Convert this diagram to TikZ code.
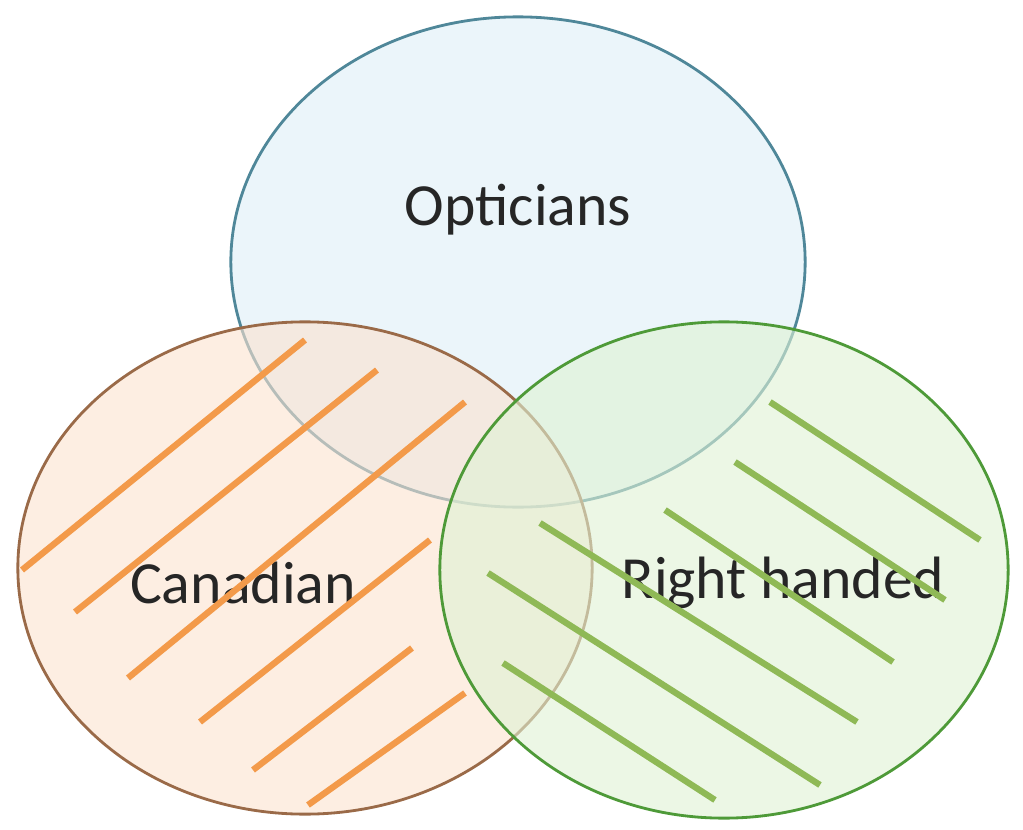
\documentclass[tikz,border=0pt]{standalone}
\usepackage{fontspec}
\setmainfont{Carlito}
\usetikzlibrary{shapes.geometric}
\definecolor{optfill}{HTML}{DDEFF6}
\definecolor{optline}{HTML}{4F8799}
\definecolor{canfill}{HTML}{FBE2CF}
\definecolor{canline}{HTML}{9A6A48}
\definecolor{rhfill}{HTML}{DFF2D4}
\definecolor{rhline}{HTML}{4E9A38}
\definecolor{hatchor}{HTML}{F39A4A}
\definecolor{hatchgr}{HTML}{8FB956}
\tikzstyle{set} = [ellipse, draw, line width=0.8pt, fill opacity=0.6, text opacity=1, inner sep=0pt]
\tikzstyle{hatch} = [line width=1.8pt]
\tikzstyle{label} = [font=\fontsize{17}{20}\selectfont, text=black!85]
\begin{document}
\begin{tikzpicture}[x=0.01cm, y=-0.01cm]
	\useasboundingbox (0,0) rectangle (1023,830);
	\node[set, fill=optfill, draw=optline, minimum width=5.74cm, minimum height=4.9cm] (opt) at (518,262) {};
	\node[set, fill=canfill, draw=canline, minimum width=5.74cm, minimum height=4.92cm] (can) at (305,568) {};
	\node[set, fill=rhfill, draw=rhline, minimum width=5.68cm, minimum height=4.96cm] (rh) at (724,570) {};

	\node[label] (optlabel) at (518,210) {Opticians};
	\node[label] (canlabel) at (243,583) {Canadian};
	\node[label] (rhlabel) at (783,583) {Right handed};

	% hatching
	\draw[hatch, hatchor] (305,340)--(22,570) (377,370)--(75,612) (465,402)--(128,678)
	    (430,540)--(200,722) (412,648)--(253,770) (465,693)--(308,805);
	\draw[hatch, hatchgr] (770,402)--(980,540) (735,462)--(945,600) (665,510)--(893,662)
	    (540,523)--(857,722) (488,573)--(820,785) (503,663)--(715,800);
\end{tikzpicture}
\end{document}
